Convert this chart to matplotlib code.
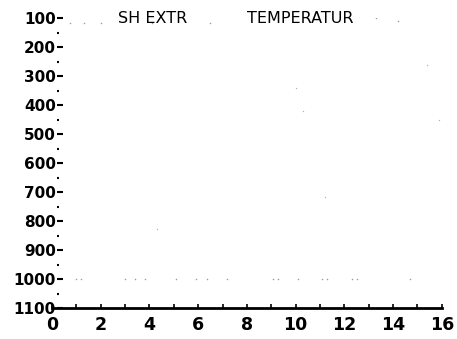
import matplotlib
matplotlib.use("Agg")
import matplotlib.pyplot as plt
import numpy as np

# Pressure levels (hPa) and day axis
pressure_ticks = [100, 200, 300, 400, 500, 600, 700, 800, 900, 1000, 1100]
day_ticks = [0, 2, 4, 6, 8, 10, 12, 14, 16]

# Sparse temperature-extreme hits near the surface (1000 hPa)
surface_days = [1.0, 1.2, 3.0, 3.4, 3.8, 5.1, 5.9, 6.35, 7.2, 9.06, 9.26, 10.1,
                11.1, 11.3, 12.3, 12.5, 14.7]
surface_p = [1000] * len(surface_days)

# Hits near the top level
top_days = [0.75, 1.3, 2.0, 4.1, 6.5, 13.3, 14.2, 12.0]
top_p = [118, 118, 118, 118, 118, 100, 110, 100]

# Isolated hits through the column
mid_days = [4.3, 15.4, 10.0, 10.3, 11.2, 15.9]
mid_p = [827, 260, 340, 420, 717, 450]

fig = plt.figure(figsize=(4.57, 3.39), dpi=100)
ax = fig.add_axes([0.1138, 0.0914, 0.853, 0.855])

ax.scatter(surface_days, surface_p, s=1.2, color="#9a9a9a", linewidths=0)
ax.scatter(top_days, top_p, s=1.2, color="#9a9a9a", linewidths=0)
ax.scatter(mid_days, mid_p, s=1.0, color="#b0b0b0", linewidths=0)

ax.set_xlim(0, 16)
ax.set_ylim(1100, 100)

for side in ("top", "right", "left"):
    ax.spines[side].set_visible(False)
ax.spines["left"].set_position(("data", 0.22))
ax.spines["bottom"].set_linewidth(2.0)

ax.set_xticks(day_ticks)
ax.set_xticklabels([str(d) for d in day_ticks], fontsize=12.5,
                   family="DejaVu Sans", weight="bold")
ax.set_xticks(np.arange(0, 17, 1), minor=True)
ax.tick_params(axis="x", which="both", direction="in", length=3, width=1.2, pad=6)

ax.set_yticks(pressure_ticks)
ax.set_yticklabels([str(p) for p in pressure_ticks], fontsize=11,
                   family="DejaVu Sans", weight="bold")
ax.set_yticks(np.arange(150, 1100, 100), minor=True)
ax.tick_params(axis="y", which="major", direction="in", length=4, width=1.5, pad=1)
ax.tick_params(axis="y", which="minor", direction="in", length=1.5, width=1.5)

title_font = dict(family="DejaVu Sans", weight="normal", fontsize=11.5)
ax.text(0.17, 1.0, "SH EXTR", transform=ax.transAxes, ha="left", va="center",
        **title_font)
ax.text(0.5, 1.0, "TEMPERATUR", transform=ax.transAxes, ha="left", va="center",
        **title_font)

fig.savefig("out.png", dpi=100)
